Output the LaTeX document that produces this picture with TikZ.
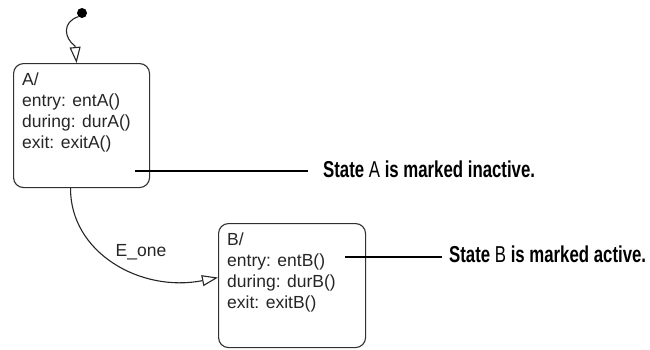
\documentclass[tikz,border=0pt]{standalone}
\usepackage{fontspec}
\setmainfont{Liberation Sans}
\newfontfamily\notefont[FakeStretch=0.73]{Liberation Sans}
\usetikzlibrary{arrows.meta}
\definecolor{boxgray}{HTML}{303030}
\tikzset{
  statebox/.style={draw=boxgray, line width=1.1pt, rounded corners=10pt, inner sep=0pt, anchor=north west},
  statetext/.style={font=\fontsize{17.5}{21}\selectfont, align=left, inner sep=0pt, anchor=north west, text=black!85},
  trans/.style={draw=black!85, line width=1.1pt, -{Triangle[open, length=16pt, width=11pt, fill=white]}},
  notelink/.style={draw=black},
  notetext/.style={font=\notefont\fontsize{23}{26}\selectfont, inner sep=0pt, anchor=base west},
  initdot/.style={circle, fill=black, minimum size=10pt, inner sep=0pt},
}
\begin{document}
\begin{tikzpicture}[x=1pt,y=-1pt]
  \useasboundingbox[fill=white] (0,0) rectangle (650,349);
  % states
  \node[statebox, minimum width=136pt, minimum height=124pt] (A) at (13,63) {};
  \node[statebox, minimum width=147pt, minimum height=124pt] (B) at (218,223) {};
  \node[statetext] (At) at (22,72.5) {A/\\entry: entA()\\during: durA()\\exit: exitA()};
  \node[statetext] (Bt) at (227,232.5) {B/\\entry: entB()\\during: durB()\\exit: exitB()};
  % default transition
  \node[initdot] (init) at (82,13) {};
  \draw[trans] (init.south west) .. controls (62,22) and (64,38) .. (75,46) -- ([xshift=-5pt]A.north);
  % transition E_one
  \draw[trans] ([xshift=-11pt]A.south) .. controls (70,252) and (140,293) .. ([yshift=8pt]B.west);
  \node[font=\fontsize{17.5}{21}\selectfont, text=black!85] (eone) at (141,252) {E\_one};
  % notes
  \node[notetext] (noteA) at (323,177) {\bfseries State \mdseries A \bfseries is marked inactive.};
  \node[notetext] (noteB) at (449,262) {\bfseries State \mdseries B \bfseries is marked active.};
  \coordinate (la) at (135,171);
  \coordinate (lb) at (345,257);
  \draw[notelink, line width=2.6pt] (la) -- ([xshift=-15pt]noteA.west |- la);
  \draw[notelink, line width=2.2pt] (lb) -- ([xshift=-7pt]noteB.west |- lb);
\end{tikzpicture}
\end{document}
